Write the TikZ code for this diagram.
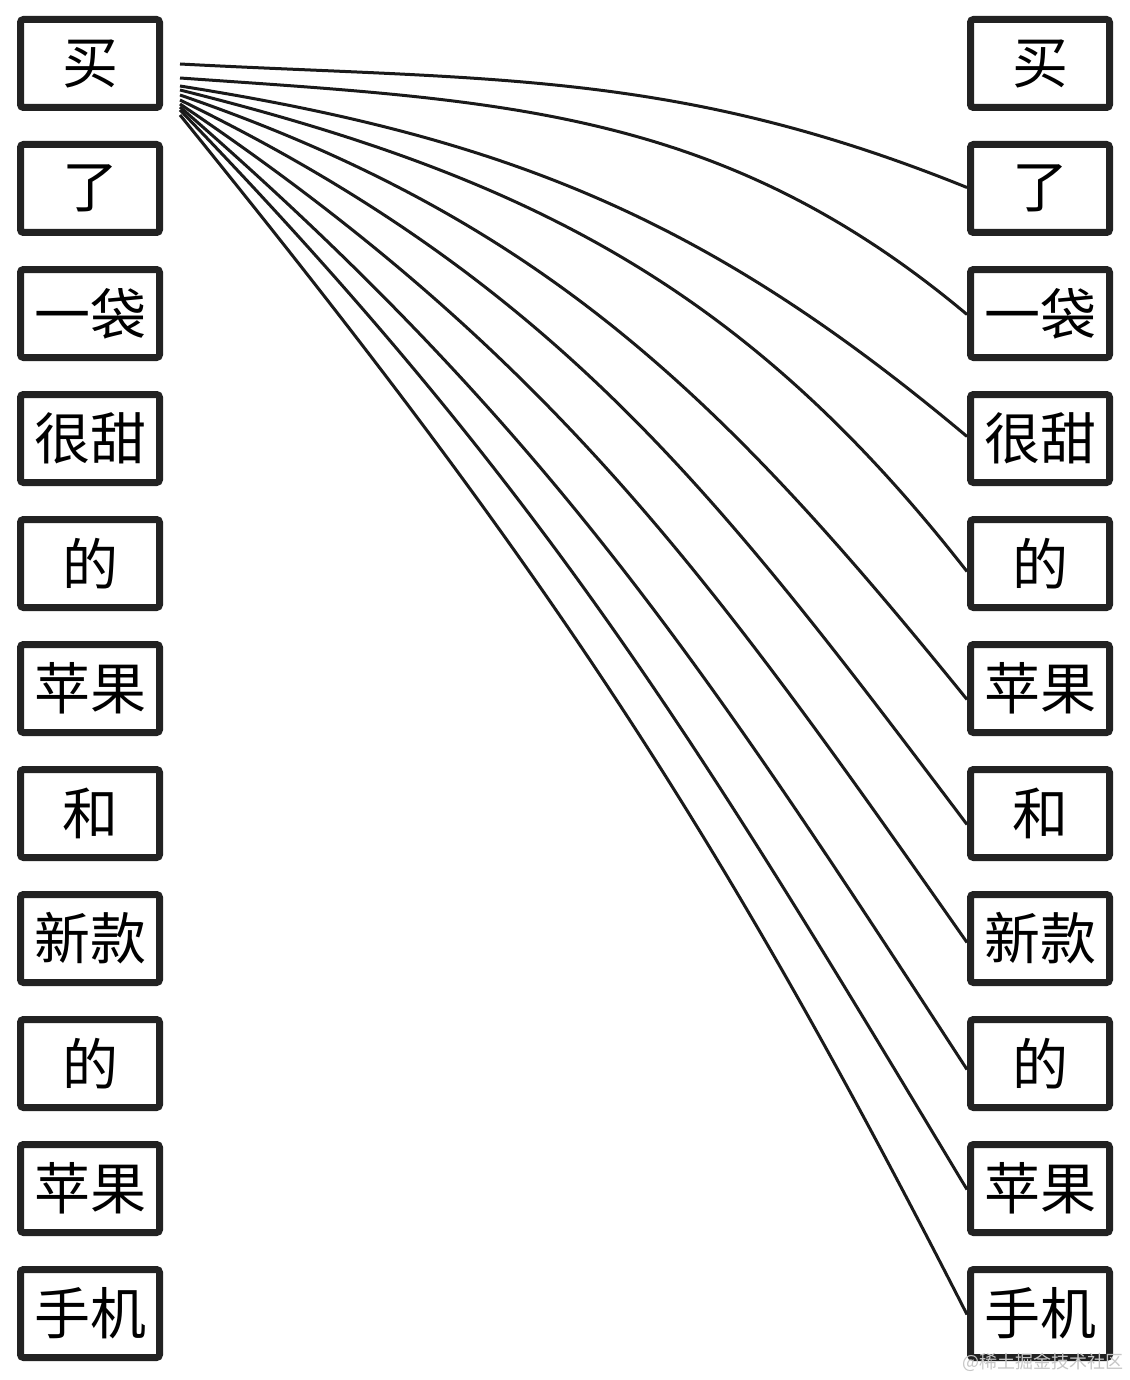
\documentclass[tikz,border=0pt]{standalone}
\usepackage{fontspec}
\setmainfont{Noto Sans CJK SC}
\usepackage{tikz}
\usetikzlibrary{positioning, calc}
\definecolor{boxline}{HTML}{222222}
\definecolor{linkline}{HTML}{1A1A1A}

\tikzset{
  wordbox/.style={draw=boxline, line width=7pt, rounded corners=3pt, minimum width=139pt, minimum height=88pt, inner sep=0pt, font=\fontsize{56}{60}\selectfont},
  link/.style={draw=linkline, line width=3pt}
}

\begin{document}
\begin{tikzpicture}[x=1pt, y=1pt]
  \useasboundingbox (0,0) rectangle (1129,-1380);
  % two columns of words
  \foreach \w [count=\i from 0] in {买,了,一袋,很甜,的,苹果,和,新款,的,苹果,手机}{
    \node[wordbox] (l\i) at (90,-63.5-125*\i) {\w};
    \node[wordbox] (r\i) at (1040,-63.5-125*\i) {\w};
  }
  % links from the first word to every other word
  \foreach \j/\dy/\ot/\it/\ey/\len in {1/0.5/-3/158/1/313, 2/14.5/-4/140/-1/321, 3/22.5/-9/140/2/336, 4/26.5/-14/128/-8/360, 5/31.5/-19/129/-11/387, 6/36.5/-26/127/-11/419, 7/40.5/-34/125/-4/449, 8/43.5/-41/123/-6/485, 9/46.5/-46/121/-1/522, 10/51.5/-51/117/-1/562}{
    \coordinate (s\j) at ($(l0.east)+(17,-\dy)$);
    \coordinate (e\j) at ($(r\j.west)+(0,\ey)$);
    \draw[link] (s\j) .. controls ($(s\j)+(\ot:\len)$) and ($(e\j)+(\it:\len)$) .. (e\j);
  }
  \node[text=gray!45, font=\fontsize{18}{20}\selectfont] (mark) at (1043,-1362) {@稀土掘金技术社区};
\end{tikzpicture}
\end{document}
